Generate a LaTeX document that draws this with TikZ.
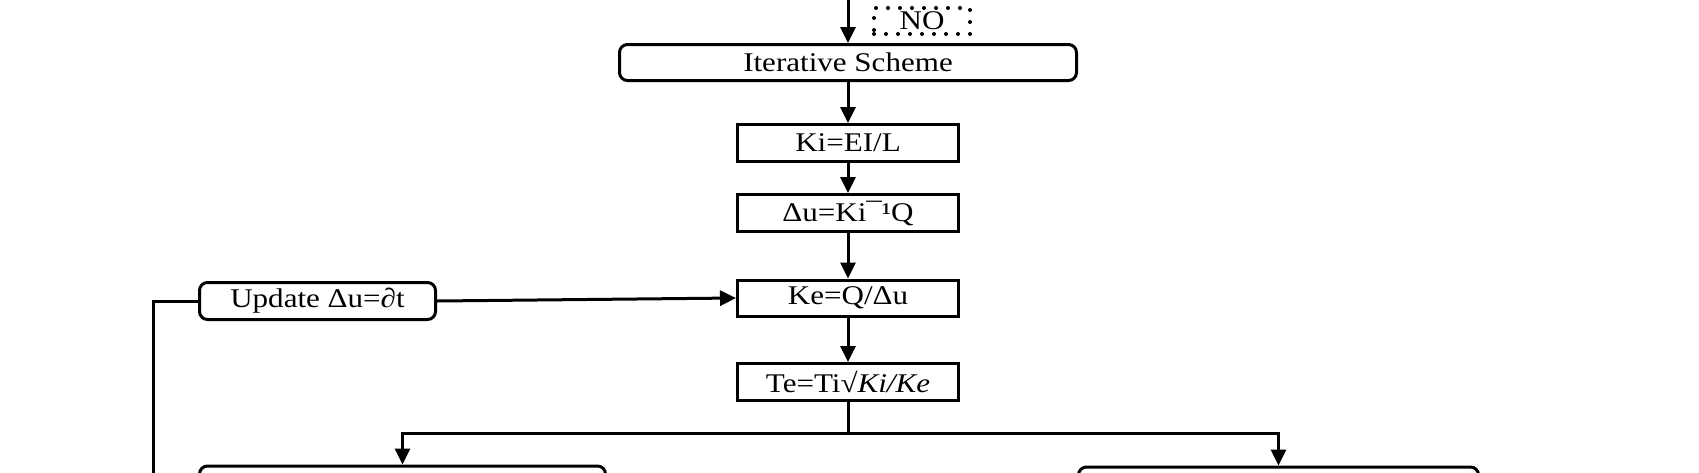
\documentclass[tikz,border=0pt]{standalone}
\usepackage{fontspec}
\setmainfont{Liberation Serif}[FakeStretch=1.15]
\usetikzlibrary{arrows.meta}
\begin{document}
\begin{tikzpicture}[x=0.5pt,y=-0.5pt,line width=1.5pt,
  box/.style={draw,line width=1.5pt,inner sep=0pt,minimum width=110.5pt,minimum height=18.5pt,font=\fontsize{13.5}{16}\selectfont},
  rbox/.style={box,rounded corners=4pt},
  dotbox/.style={draw,line width=2pt,line cap=round,dash pattern=on 0pt off 6pt,inner sep=0pt,minimum width=48pt,minimum height=13pt,font=\fontsize{13.5}{16}\selectfont},
  arr/.style={-{Triangle[length=8pt,width=7.5pt]}}]
\useasboundingbox (0,0) rectangle (1699,472);
\clip (0,0) rectangle (1699,472);
\node[rbox,minimum width=228.5pt,minimum height=18pt] (iter) at (848,62.5) {Iterative Scheme};
\node[dotbox] (no) at (922,21) {NO};
\node[box] (ki) at (848,143) {Ki=EI/L};
\node[box] (du) at (848,213) {Δu=Ki¯¹Q};
\node[box,minimum height=18pt] (ke) at (848,298) {Ke=Q/Δu};
\node[box] (te) at (848,382) {Te=Ti√\textit{Ki/Ke}};
\node[rbox,minimum width=118pt] (upd) at (317.5,301) {Update Δu=∂t};
\node[rbox,minimum width=203pt,minimum height=60pt] (bl) at (402.5,526) {};
\node[rbox,minimum width=200pt,minimum height=60pt] (br) at (1278.5,527) {};
\coordinate (top) at (848,-10);
\coordinate (split) at (848,433);
\coordinate (loopend) at (153,520);
\draw[arr] (top) -- (iter.north);
\draw[arr] (iter) -- (ki);
\draw[arr] (ki) -- (du);
\draw[arr] (du) -- (ke);
\draw[arr] (ke) -- (te);
\draw (te.south) -- (split);
\draw[arr] (split) -| (bl.north);
\draw[arr] (split) -| (br.north);
\draw[arr] (upd.east) -- (ke.west);
\draw (upd.west) -| (loopend);
\end{tikzpicture}
\end{document}
